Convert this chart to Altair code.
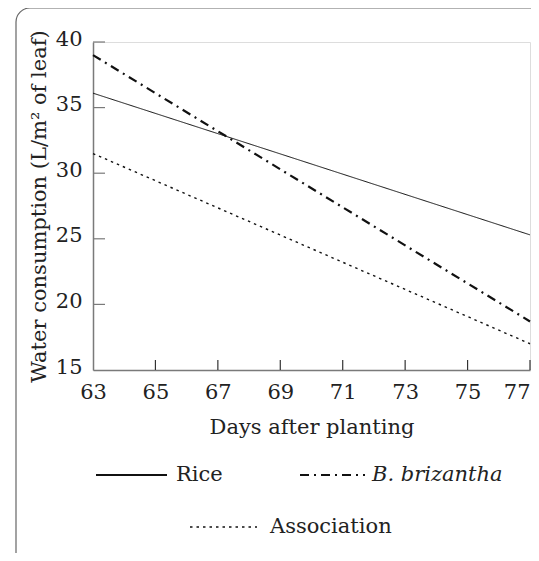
import altair as alt
import pandas as pd

days = [63, 77]
rice = [36.1, 25.3]
brizantha = [39.0, 18.7]
association = [31.5, 17.0]

x_ticks = [63, 65, 67, 69, 71, 73, 75, 77]
y_ticks = [15, 20, 25, 30, 35, 40]

FONT = "DejaVu Serif"
AX = "#7a7a7a"
W, H = 437, 328

df = pd.DataFrame({
    "day": days * 3,
    "value": rice + brizantha + association,
    "series": ["Rice"] * 2 + ["B. brizantha"] * 2 + ["Association"] * 2,
})

xs = alt.Scale(domain=[63, 77], nice=False, zero=False)
ys = alt.Scale(domain=[15, 40], nice=False, zero=False)

xaxis = alt.Axis(values=x_ticks, format="d", tickSize=0, labelPadding=11,
                 labelFont=FONT, labelFontSize=21, labelColor="#222",
                 labelFlush=False,
                 labelAlign={"condition": {"test": "datum.value == 77", "value": "right"},
                             "value": "center"},
                 domainColor=AX, domainWidth=1.5, grid=False,
                 title="Days after planting", titleFont=FONT, titleFontSize=21,
                 titleFontWeight="normal", titleColor="#222", titlePadding=14)
yaxis = alt.Axis(values=y_ticks, format="d", tickSize=0, labelPadding=11,
                 labelFont=FONT, labelFontSize=21, labelColor="#222",
                 labelOffset=-3, labelFlush=False,
                 domainColor=AX, domainWidth=1.5, grid=False,
                 title="Water consumption (L/m² of leaf)", titleFont=FONT,
                 titleFontSize=21, titleFontWeight="normal", titleColor="#222",
                 titlePadding=6)

frame = alt.Chart(pd.DataFrame({"a": [0]})).mark_rect(
    fill="white", fillOpacity=0, stroke="#666", strokeWidth=1.2, cornerRadius=14
).encode(x=alt.value(-77), x2=alt.value(454), y=alt.value(-34), y2=alt.value(528))

base = alt.Chart(df)

def series_line(name, dash, width):
    return base.transform_filter(alt.datum.series == name).mark_line(
        color="#111", strokeWidth=width, strokeDash=dash, clip=False
    ).encode(
        x=alt.X("day:Q", scale=xs, axis=xaxis),
        y=alt.Y("value:Q", scale=ys, axis=yaxis),
    )

rice_l = series_line("Rice", [1, 0], 1)
bri_l = series_line("B. brizantha", [9, 5, 2, 5], 2.2)
ass_l = series_line("Association", [2.5, 4], 1.4)

xt = alt.Chart(pd.DataFrame({"t": x_ticks[1:]})).mark_rule(color="#333", strokeWidth=1.2).encode(
    x=alt.X("t:Q", scale=xs), y=alt.value(H), y2=alt.value(H - 10))
yt = alt.Chart(pd.DataFrame({"t": y_ticks[1:]})).mark_rule(color=AX, strokeWidth=1.2).encode(
    y=alt.Y("t:Q", scale=ys), x=alt.value(0), x2=alt.value(12))

one = pd.DataFrame({"a": [0]})
leg_y1 = 475 - 42
leg_y2 = 527 - 42

def leg_line(x1, x2, y, dash, width):
    return alt.Chart(one).mark_rule(color="#111", strokeWidth=width, strokeDash=dash).encode(
        x=alt.value(x1 - 93), x2=alt.value(x2 - 93), y=alt.value(y))

def leg_text(x, y, txt, style="normal"):
    return alt.Chart(one).mark_text(
        text=txt, align="left", baseline="middle", font=FONT, fontSize=21,
        fontStyle=style, color="#222"
    ).encode(x=alt.value(x - 93), y=alt.value(y))

legend = (
    leg_line(96, 167, leg_y1, [1, 0], 1.8)
    + leg_text(176, leg_y1, "Rice")
    + leg_line(300, 365, leg_y1, [9, 5, 2, 5], 2.2)
    + leg_text(372, leg_y1, "B. brizantha", "italic")
    + leg_line(190, 257, leg_y2, [2.5, 4], 1.4)
    + leg_text(270, leg_y2, "Association")
)

chart = alt.layer(frame, rice_l, bri_l, ass_l, xt, yt, legend).properties(
    width=W, height=H,
    autosize=alt.AutoSizeParams(type="none"),
    padding={"left": 85, "top": 34, "right": 1, "bottom": 183},
).configure_view(stroke=None).configure(background="white")

chart.save("out.html", embed_options={"renderer": "svg", "actions": False})
